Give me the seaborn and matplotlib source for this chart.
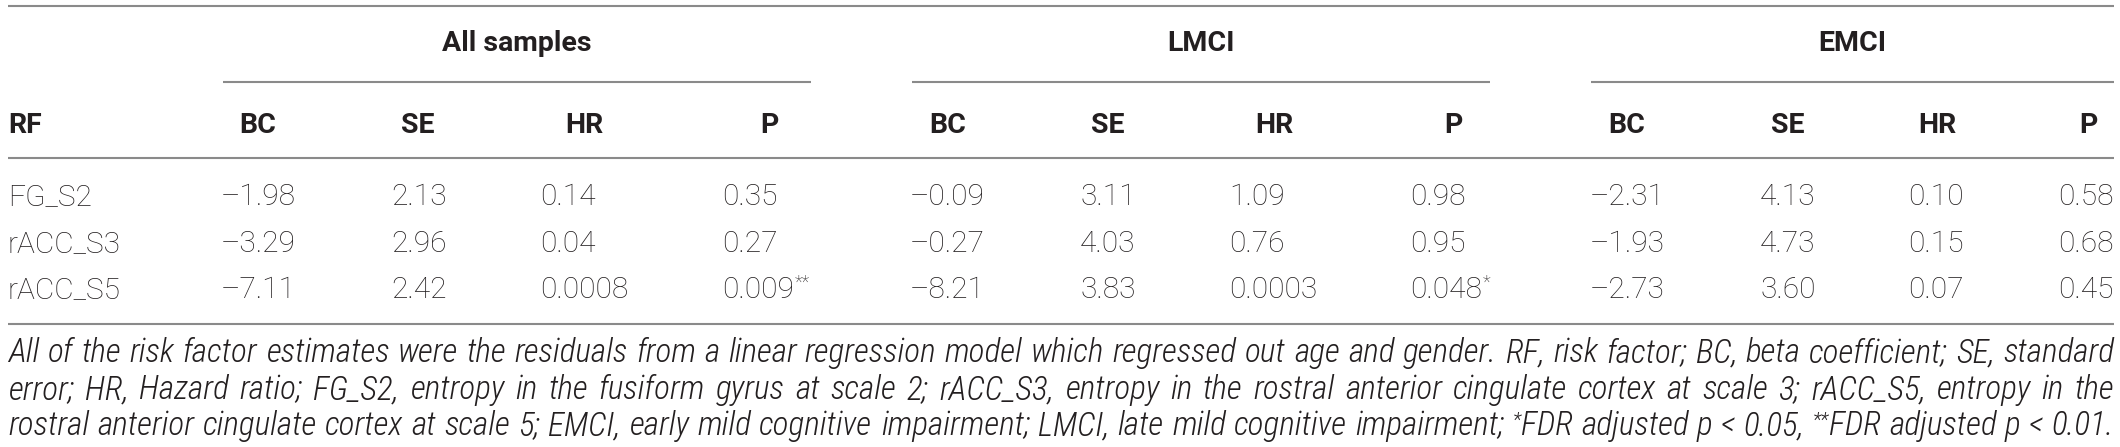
"""
Table: Cox regression of risk factors (all samples, LMCI, EMCI), drawn as a figure.
"""

import matplotlib
matplotlib.use("Agg")
import matplotlib.pyplot as plt
import seaborn as sns
from matplotlib import font_manager

# ---- data -----------------------------------------------------------------
groups = ["All samples", "LMCI", "EMCI"]
stats = ["BC", "SE", "HR", "P"]
risk_factors = ["FG_S2", "rACC_S3", "rACC_S5"]

all_bc = ["\u20131.98", "\u20133.29", "\u20137.11"]
all_se = ["2.13", "2.96", "2.42"]
all_hr = ["0.14", "0.04", "0.0008"]
all_p = ["0.35", "0.27", "0.009"]
all_mark = ["", "", "**"]

lmci_bc = ["\u20130.09", "\u20130.27", "\u20138.21"]
lmci_se = ["3.11", "4.03", "3.83"]
lmci_hr = ["1.09", "0.76", "0.0003"]
lmci_p = ["0.98", "0.95", "0.048"]
lmci_mark = ["", "", "*"]

emci_bc = ["\u20132.31", "\u20131.93", "\u20132.73"]
emci_se = ["4.13", "4.73", "3.60"]
emci_hr = ["0.10", "0.15", "0.07"]
emci_p = ["0.58", "0.68", "0.45"]
emci_mark = ["", "", ""]

caption_lines = [
    "All of the risk factor estimates were the residuals from a linear regression model which "
    "regressed out age and gender. RF, risk factor; BC, beta coefficient; SE, standard",
    "error; HR, Hazard ratio; FG_S2, entropy in the fusiform gyrus at scale 2; rACC_S3, entropy "
    "in the rostral anterior cingulate cortex at scale 3; rACC_S5, entropy in the",
    "rostral anterior cingulate cortex at scale 5; EMCI, early mild cognitive impairment; LMCI, "
    "late mild cognitive impairment; *FDR adjusted p < 0.05, **FDR adjusted p < 0.01.",
]

blocks = [
    [all_bc, all_se, all_hr, all_p],
    [lmci_bc, lmci_se, lmci_hr, lmci_p],
    [emci_bc, emci_se, emci_hr, emci_p],
]
marks = [all_mark, lmci_mark, emci_mark]

# ---- layout (pixel units) -------------------------------------------------
W, H = 2120, 447
X0, X1 = 8, 2114
data_x = [[221, 391, 540, 722], [910, 1080, 1229, 1410], [1590, 1760, 1908, 2058]]
head_x = [[258, 418, 584, 769], [948, 1108, 1274, 1453], [1627, 1788, 1937, 2088]]
group_span = [(223, 811), (912, 1490), (1591, 2114)]
y_top, y_group_line, y_rule, y_bottom = 6, 82, 158, 324
y_group, y_head = 51, 133
row_y = [205, 252, 298]
caption_y = [362, 399, 435]

TEXT = "#231f20"
LINE = "#8a8a8a"

sns.set_theme(style="white")
fonts = font_manager.fontManager.ttflist
names = {f.name for f in fonts}
table_font = "Roboto" if "Roboto" in names else "DejaVu Sans"

# caption wants a narrow italic face; take the first one installed
cap_font, cap_stretch = table_font, "normal"
for name, stretch in [("Roboto Condensed", "normal"), ("Liberation Sans Narrow", "normal"),
                      ("Open Sans Condensed", "normal"), ("Arial Narrow", "normal"),
                      ("DejaVu Sans", "condensed")]:
    if any(f.name == name and (stretch == "normal" or "condensed" in str(f.stretch)) for f in fonts):
        cap_font, cap_stretch = name, stretch
        break
plt.rcParams["font.family"] = [table_font, "DejaVu Sans"]

fig = plt.figure(figsize=(W / 100, H / 100), dpi=100)
ax = fig.add_axes([0, 0, 1, 1])
ax.set_xlim(0, W)
ax.set_ylim(H, 0)
ax.axis("off")
renderer = fig.canvas.get_renderer()

body = dict(family=table_font, weight="light", fontsize=21.5, color=TEXT, va="baseline")
bold = dict(family=table_font, weight="bold", fontsize=20.5, color=TEXT, va="baseline")

# rules
for y in (y_top, y_rule, y_bottom):
    ax.plot([X0, X1], [y, y], color=LINE, lw=1.5, solid_capstyle="butt")
for (a, b) in group_span:
    ax.plot([a, b], [y_group_line, y_group_line], color=LINE, lw=1.5, solid_capstyle="butt")

# headers
for g, (a, b) in zip(groups, group_span):
    ax.text((a + b) / 2, y_group, g, ha="center", **bold)
ax.text(X0, y_head, "RF", ha="left", **bold)
for hx in head_x:
    for x, s in zip(hx, stats):
        ax.text(x, y_head, s, ha="center", **bold)

# body
for y, rf in zip(row_y, risk_factors):
    ax.text(X0, y, rf, ha="left", **body)
for cols, xs, mk in zip(blocks, data_x, marks):
    for values, x in zip(cols, xs):
        for i, (v, y) in enumerate(zip(values, row_y)):
            t = ax.text(x, y, v, ha="left", **body)
            if values is cols[-1] and mk[i]:
                w = t.get_window_extent(renderer).width
                ax.text(x + w + 1, y - 10, mk[i], ha="left", family=table_font,
                        weight="light", fontsize=13, color=TEXT, va="baseline")

# caption, justified to the table width
cap = dict(family=cap_font, stretch=cap_stretch, style="italic", weight="light",
           color=TEXT, va="baseline", ha="left")
base = 20.0
min_gap = 0.25  # smallest word gap, in em

lines = []
for line, y in zip(caption_lines, caption_y):
    words = []
    for w in line.split(" "):
        stars = len(w) - len(w.lstrip("*"))
        pieces = []
        if stars:
            pieces.append((ax.text(0, y - 9, "*" * stars, fontsize=base * 0.6, **cap), 0.6))
        pieces.append((ax.text(0, y, w[stars:], fontsize=base, **cap), 1.0))
        words.append(pieces)
    lines.append(words)


def word_width(pieces):
    return sum(p.get_window_extent(renderer).width for p, _ in pieces)


# size the caption so the longest line just fits with normal word gaps
em = base * 100 / 72
scale = min((X1 - X0) / (sum(word_width(p) for p in words) + (len(words) - 1) * min_gap * em)
            for words in lines)
for words in lines:
    for pieces in words:
        for p, f in pieces:
            p.set_fontsize(base * scale * f)

for words in lines:
    widths = [word_width(p) for p in words]
    gap = (X1 - X0 - sum(widths)) / (len(words) - 1)
    x = X0
    for pieces, wtot in zip(words, widths):
        px = x
        for p, _ in pieces:
            p.set_x(px)
            px += p.get_window_extent(renderer).width
        x += wtot + gap

fig.savefig("out.png", dpi=100)
plt.close(fig)
